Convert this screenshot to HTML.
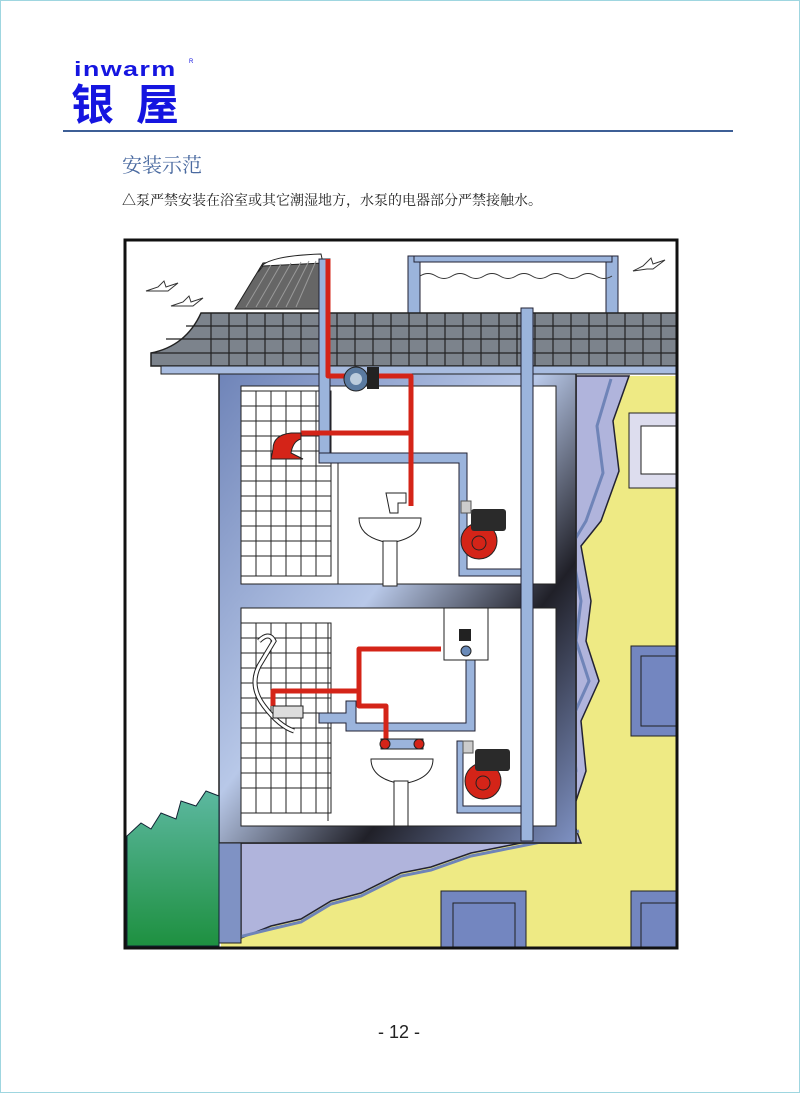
<!DOCTYPE html>
<html><head><meta charset="utf-8"><style>
html,body{margin:0;padding:0;background:#fff}
.pg{position:relative;width:798px;height:1091px;border:1px solid #9fd6e0;overflow:hidden;font-family:"Liberation Sans","Noto Sans CJK SC",sans-serif}
.t{position:absolute;white-space:nowrap}
</style></head><body><div class="pg">
<div class="t" style="left:73px;top:58px;font-size:20px;line-height:22px;font-weight:bold;color:#1515e0;letter-spacing:1px;transform:scaleX(1.35);transform-origin:0 0">inwarm</div>
<div class="t" style="left:188px;top:58px;font-size:6px;color:#1515e0">R</div>
<div class="t" style="left:70px;top:76px;font-size:43px;line-height:50px;font-weight:bold;color:#1515e0;font-family:'Noto Sans CJK SC',sans-serif;letter-spacing:22px">银屋</div>
<div style="position:absolute;left:62px;top:129px;width:670px;height:2px;background:#3d5f96"></div>
<div class="t" style="left:121px;top:148px;font-size:20px;color:#4a6aa0;font-family:'Noto Serif CJK SC',serif">安装示范</div>
<div class="t" style="left:121px;top:189px;font-size:14px;color:#222;font-family:'Noto Serif CJK SC',serif">△泵严禁安装在浴室或其它潮湿地方，水泵的电器部分严禁接触水。</div>
<div class="t" style="left:377px;top:1021px;font-size:18px;color:#222">- 12 -</div>
<svg style="position:absolute;left:0;top:0" width="800" height="1093">
<defs>
<linearGradient id="w" x1="0" y1="0" x2="1" y2="1"><stop offset="0" stop-color="#6f84b8"/><stop offset=".45" stop-color="#b8c8e8"/><stop offset=".7" stop-color="#202028"/><stop offset="1" stop-color="#7f92c4"/></linearGradient>
<linearGradient id="tr" x1="0" y1="0" x2="0" y2="1"><stop offset="0" stop-color="#5cb8a0"/><stop offset="1" stop-color="#1e9040"/></linearGradient>
</defs>
<rect x="124" y="239" width="552" height="708" fill="#eeea84"/>
<rect x="124" y="239" width="552" height="136" fill="#fff"/>
<rect x="124" y="375" width="96" height="572" fill="#fff"/>
<path d="M575 375 L628 375 L612 420 L618 470 L600 520 L580 545 L590 600 L585 640 L598 680 L580 720 L585 770 L575 800 L575 375 Z" fill="#b0b4dc" stroke="#223" stroke-width="1.5"/>
<path d="M610 378 L596 425 L602 472 L585 520 L570 545 L580 600 L575 640 L588 680 L570 720 L575 770 L565 805" fill="none" stroke="#6f84b8" stroke-width="3"/>
<path d="M240 842 L580 842 L575 828 L540 838 L500 846 L470 852 L430 866 L400 872 L360 892 L330 900 L300 918 L270 925 L240 937 Z" fill="#b0b4dc" stroke="#223" stroke-width="1.5"/>
<path d="M222 940 L270 928 L300 921 L330 903 L360 895 L400 875 L430 869 L470 855 L500 849 L540 841 L578 830" fill="none" stroke="#6f84b8" stroke-width="3"/>
<rect x="218" y="372" width="357" height="470" fill="url(#w)" stroke="#222" stroke-width="1.5"/>
<rect x="218" y="842" width="22" height="100" fill="#7f92c4" stroke="#222"/>
<rect x="240" y="385" width="315" height="198" fill="#fff" stroke="#222"/>
<rect x="240" y="607" width="315" height="218" fill="#fff" stroke="#222"/>
<g stroke="#222" stroke-width="1" fill="none">
<rect x="240" y="390" width="90" height="185"/>
<path d="M255 390V575M270 390V575M285 390V575M300 390V575M315 390V575M240 405H330M240 420H330M240 435H330M240 450H330M240 465H330M240 480H330M240 495H330M240 510H330M240 525H330M240 540H330M240 555H330"/>
<rect x="240" y="622" width="90" height="190"/>
<path d="M255 622V812M270 622V812M285 622V812M300 622V812M315 622V812M240 637H330M240 652H330M240 667H330M240 682H330M240 697H330M240 712H330M240 727H330M240 742H330M240 757H330M240 772H330M240 787H330"/>
<path d="M337 455V583M327 622V820"/>
</g>
<rect x="628" y="412" width="48" height="75" fill="#dde" stroke="#222"/><rect x="640" y="425" width="36" height="48" fill="#fff" stroke="#222"/>
<rect x="630" y="645" width="46" height="90" fill="#7386c0" stroke="#222"/><rect x="640" y="655" width="36" height="70" fill="#7386c0" stroke="#222"/>
<rect x="440" y="890" width="85" height="57" fill="#7386c0" stroke="#222"/><rect x="452" y="902" width="62" height="45" fill="#7386c0" stroke="#222"/>
<rect x="630" y="890" width="46" height="57" fill="#7386c0" stroke="#222"/><rect x="640" y="902" width="36" height="45" fill="#7386c0" stroke="#222"/>
<path d="M126 835 L140 822 L150 828 L160 812 L175 818 L180 800 L195 805 L205 790 L218 795 L218 945 L126 945 Z" fill="url(#tr)" stroke="#123" stroke-width="1"/>
<rect x="407" y="255" width="12" height="60" fill="#9bb4dc" stroke="#223"/>
<rect x="605" y="255" width="12" height="60" fill="#9bb4dc" stroke="#223"/>
<rect x="413" y="255" width="198" height="6" fill="#9bb4dc" stroke="#223"/>
<path d="M419 275 q8 -5 16 0 t16 0 t16 0 t16 0 t16 0 t16 0 t16 0 t16 0 t16 0 t16 0 t16 0 t16 0" fill="none" stroke="#333"/>
<path d="M145 290 l12 -4 l6 -6 l2 6 l12 -4 l-10 8 l-6 0 z M170 305 l12 -4 l6 -6 l2 6 l12 -4 l-10 8 l-6 0 z M632 270 l10 -5 l8 -8 l2 6 l12 -4 l-12 9 l-6 0 z" fill="#fff" stroke="#333"/>
<path d="M234 308 L262 262 L318 258 L322 308 Z" fill="#666" stroke="#222"/>
<path d="M258 270 Q260 255 320 253 L322 262 L262 265 Z" fill="#fff" stroke="#222"/>
<g stroke="#999" stroke-width="1"><path d="M245 306L270 264M255 306L280 263M265 306L290 262M275 306L300 261M285 306L308 260M295 306L315 260"/></g>
<path d="M150 352 Q185 345 200 312 L676 312 L676 365 L150 365 Z" fill="#7c838c" stroke="#222" stroke-width="1.5"/>
<g stroke="#222" stroke-width="1.2" fill="none">
<path d="M165 338 H676 M185 325 H676 M150 352 H676"/>
<path d="M210 312V365M228 312V365M246 312V365M264 312V365M282 312V365M300 312V365M318 312V365M336 312V365M354 312V365M372 312V365M390 312V365M408 312V365M426 312V365M444 312V365M462 312V365M480 312V365M498 312V365M516 312V365M534 312V365M552 312V365M570 312V365M588 312V365M606 312V365M624 312V365M642 312V365M660 312V365"/>
</g>
<rect x="160" y="365" width="516" height="8" fill="#a8bce0" stroke="#222"/>
<g fill="#9bb4dc" stroke="#223" stroke-width="1">
<rect x="520" y="307" width="12" height="533"/>
<rect x="318" y="258" width="11" height="200"/>
<path d="M318 452 H466 V568 H520 V575 H458 V462 H318 Z"/>
<path d="M318 712 H345 V700 H355 V722 H465 V655 H474 V730 H345 V722 H318 Z"/>
<path d="M462 740 V805 H520 V812 H456 V740 Z"/>
</g>
<g fill="none" stroke="#d42418" stroke-width="5" stroke-linejoin="round">
<path d="M327 258 V375 H348"/>
<path d="M372 375 H410 V505"/>
<path d="M300 432 H410"/>
<path d="M440 648 H358 V690 H272 V705"/>
<path d="M358 690 V705 H385 V740"/>
</g>
<path d="M272 448 Q272 434 290 432 L300 432 L300 438 Q292 440 290 452 L302 458 L270 458 Z" fill="#d42418" stroke="#222"/>
<circle cx="355" cy="378" r="12" fill="#5a7aa0" stroke="#222"/><circle cx="355" cy="378" r="6" fill="#bcd"/>
<rect x="366" y="366" width="12" height="22" fill="#222"/>
<path d="M385 492 h20 v10 h-8 v10 h-8 z" fill="#fff" stroke="#222"/>
<path d="M358 517 h62 q0 20 -31 25 q-31 -5 -31 -25 z" fill="#fff" stroke="#222"/>
<path d="M382 540 h14 v45 h-14 z" fill="#fff" stroke="#222"/>
<path d="M370 758 h62 q0 20 -31 25 q-31 -5 -31 -25 z" fill="#fff" stroke="#222"/>
<path d="M393 780 h14 v45 h-14 z" fill="#fff" stroke="#222"/>
<rect x="380" y="738" width="42" height="10" fill="#9bb4dc" stroke="#222"/>
<circle cx="384" cy="743" r="5" fill="#d42418" stroke="#222"/><circle cx="418" cy="743" r="5" fill="#d42418" stroke="#222"/>
<path d="M258 640 q10 -10 15 0 l-15 25 q-10 20 5 40 q15 20 30 25" fill="none" stroke="#222" stroke-width="5"/>
<path d="M258 640 q10 -10 15 0 l-15 25 q-10 20 5 40 q15 20 30 25" fill="none" stroke="#fff" stroke-width="3"/>
<rect x="272" y="705" width="30" height="12" fill="#ddd" stroke="#222"/>
<rect x="443" y="607" width="44" height="52" fill="#fff" stroke="#222"/>
<rect x="458" y="628" width="12" height="12" fill="#222"/><circle cx="465" cy="650" r="5" fill="#6a8ab8" stroke="#222"/>
<g>
<circle cx="478" cy="540" r="18" fill="#d42418" stroke="#222"/><rect x="470" y="508" width="35" height="22" fill="#2a2a2a" rx="3"/><circle cx="478" cy="542" r="7" fill="none" stroke="#222"/>
<rect x="460" y="500" width="10" height="12" fill="#ccc" stroke="#555"/>
<circle cx="482" cy="780" r="18" fill="#d42418" stroke="#222"/><rect x="474" y="748" width="35" height="22" fill="#2a2a2a" rx="3"/><circle cx="482" cy="782" r="7" fill="none" stroke="#222"/>
<rect x="462" y="740" width="10" height="12" fill="#ccc" stroke="#555"/>
</g>
<rect x="124" y="239" width="552" height="708" fill="none" stroke="#111" stroke-width="3"/>
</svg>
</div></body></html>
